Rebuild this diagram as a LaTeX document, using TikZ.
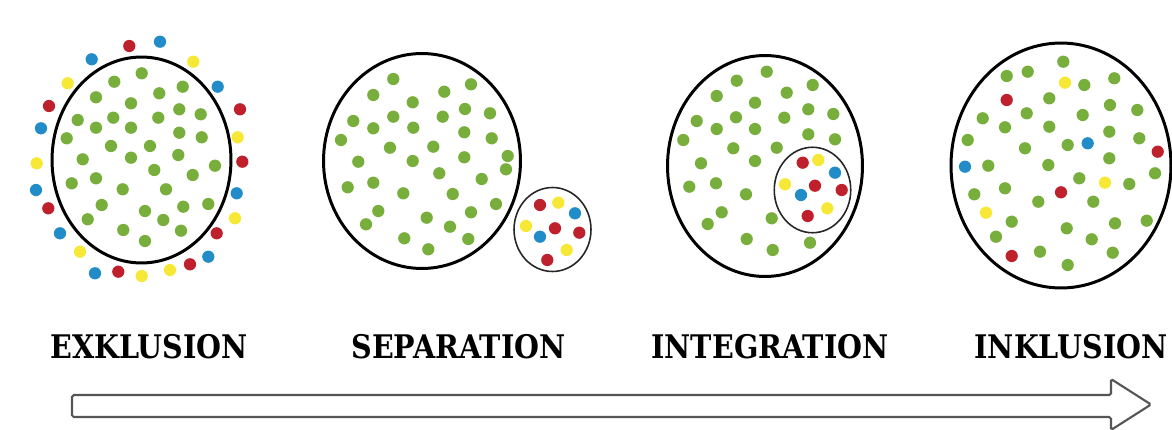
\documentclass[tikz,border=0pt]{standalone}
\usepackage{fontspec}
\newfontfamily\labelfont{DejaVu Serif}
\usepackage{tikz}
\usetikzlibrary{shapes.geometric}
\usetikzlibrary{positioning}
\definecolor{dotgreen}{RGB}{120,174,60}
\definecolor{dotred}{RGB}{190,32,44}
\definecolor{dotblue}{RGB}{34,140,200}
\definecolor{dotyellow}{RGB}{246,232,52}
\definecolor{arrowgray}{RGB}{85,85,85}
\newcommand{\stagelabel}[1]{\scalebox{0.88}[1]{#1}}

\begin{document}
\begin{tikzpicture}[x=0.02cm,y=-0.02cm,
    big ring/.style={ellipse,draw=black,line width=1.7pt,inner sep=0pt},
    small ring/.style={ellipse,draw=black!85,line width=0.9pt,inner sep=0pt},
    dot node/.style={circle,inner sep=0pt,minimum size=0.245cm},
    green node/.style={dot node,fill=dotgreen},
    red node/.style={dot node,fill=dotred},
    blue node/.style={dot node,fill=dotblue},
    yellow node/.style={dot node,fill=dotyellow},
    label node/.style={font=\labelfont\bfseries\fontsize{18.5pt}{21pt}\selectfont,inner sep=0pt}]
   \useasboundingbox (0,0) rectangle (1172,429);
   % exklusion
   \node[big ring,minimum width=3.58cm,minimum height=4.12cm] (exkl) at (141.5,160) {};
   \foreach \x/\y [count=\i] in {141.7/73.3,114.3/81.7,182.7/86.7,159.3/93.3,96/97.3,131/103.3,179.3/109.3,200.7/114.3,
      77.7/120,113.3/117.7,158.3/117.7,96/127.7,131/127.7,179.3/132.7,201.7/137.3,66.7/138.3,111/146,150/146,
      82.7/159.3,131/157.7,178.3/155,215/165.7,154.3/170,192.7/175,96/178.3,71.7/183.3,122.7/189.3,166/189.3,
      101.7/205,183.3/206.7,208.3/204,87.7/219.3,145/211,163.3/220,123.3/230,181/230.7,145/241}
      \node[green node] (ex\i) at (\x,\y) {};
   \node[red node] (exr1) at (129.3,46) {};
   \node[blue node] (exb1) at (160,41.7) {};
   \node[blue node] (exb2) at (91.7,59.3) {};
   \node[yellow node] (exy1) at (193.3,61.7) {};
   \node[yellow node] (exy2) at (67.7,83.3) {};
   \node[blue node] (exb3) at (217.7,86.7) {};
   \node[red node] (exr2) at (49,106) {};
   \node[red node] (exr3) at (240,109.3) {};
   \node[blue node] (exb4) at (41,128.3) {};
   \node[yellow node] (exy3) at (237.7,137.3) {};
   \node[yellow node] (exy4) at (36.7,163.3) {};
   \node[red node] (exr4) at (242.3,161.7) {};
   \node[blue node] (exb5) at (36,190) {};
   \node[blue node] (exb6) at (236.7,193.3) {};
   \node[red node] (exr5) at (48.3,208.3) {};
   \node[yellow node] (exy5) at (235,218.3) {};
   \node[blue node] (exb7) at (60,233.3) {};
   \node[red node] (exr6) at (216.7,233.3) {};
   \node[yellow node] (exy6) at (80,251.7) {};
   \node[blue node] (exb8) at (208.3,256.7) {};
   \node[red node] (exr7) at (190,264.3) {};
   \node[blue node] (exb9) at (95,273.3) {};
   \node[red node] (exr8) at (118.3,271.7) {};
   \node[yellow node] (exy7) at (141.7,276) {};
   \node[yellow node] (exy8) at (170,270) {};
   % separation
   \node[big ring,minimum width=3.94cm,minimum height=4.3cm] (sep) at (422,161) {};
   \foreach \x/\y [count=\i] in {393.3/79,471/84.3,373.3/95,444.3/91.7,412.7/102.3,465/109,393.3/116.7,442.7/116.7,
      490/113.3,353.3/121,373.3/128.3,413.3/127.7,464.3/132.3,491.7/138.3,341/140,390/147.7,433.3/146.7,
      464.3/157.3,358.3/161.7,412.7/161,507.7/156,506/169.3,439.3/173.3,481.7/179,347.7/187.3,373.3/182.7,
      403.3/193.3,452.7/194,496/204,378.3/211,471/212.3,366/224.3,426.7/217.7,450/226.7,404.3/238.3,
      468.3/239,428.3/249.3}
      \node[green node] (se\i) at (\x,\y) {};
   \node[small ring,minimum width=1.54cm,minimum height=1.68cm] (sepgroup) at (552.5,229.5) {};
   \node[red node] (ser1) at (540,205) {};
   \node[yellow node] (sey1) at (558.3,202.7) {};
   \node[blue node] (seb1) at (575,213.3) {};
   \node[yellow node] (sey2) at (526,226) {};
   \node[red node] (ser2) at (555,228.3) {};
   \node[red node] (ser3) at (579.3,232.7) {};
   \node[blue node] (seb2) at (540,236.7) {};
   \node[yellow node] (sey3) at (566.7,250) {};
   \node[red node] (ser4) at (547.3,260) {};
   % integration
   \node[big ring,minimum width=3.9cm,minimum height=4.42cm] (integ) at (765,166) {};
   \foreach \x/\y [count=\i] in {766.7/71.7,736.7/80.7,812.7/85,716.7/96,786.7/92.7,755/102.7,808.3/109.3,833.3/114,
      696.7/121,736/117.3,784.3/117.7,716.7/129,755/129,808.3/134.3,835/139.3,683.3/140,733.3/148.3,776.7/147.7,
      701/163.3,755/161,689.3/186.7,716/183.3,746/194.3,721.7/212.3,771.7/218.3,707.7/224,746.7/239,
      772.7/250,810/242.7}
      \node[green node] (in\i) at (\x,\y) {};
   \node[small ring,minimum width=1.53cm,minimum height=1.71cm] (integgroup) at (812.5,190) {};
   \node[red node] (inr1) at (802.7,162.7) {};
   \node[yellow node] (iny1) at (818.3,160) {};
   \node[blue node] (inb1) at (835,172.7) {};
   \node[yellow node] (iny2) at (785,184.3) {};
   \node[red node] (inr2) at (815,185.7) {};
   \node[red node] (inr3) at (841.7,190) {};
   \node[blue node] (inb2) at (801,195) {};
   \node[yellow node] (iny3) at (827.3,208.3) {};
   \node[red node] (inr4) at (807.7,216) {};
   % inklusion
   \node[big ring,minimum width=4.4cm,minimum height=4.9cm] (inkl) at (1061,165.5) {};
   \foreach \x/\y [count=\i] in {1063.3/61.7,1006.7/76,1027.7/71.7,1114.3/78.3,1084.3/85,1049.3/98.3,1026.7/113.3,
      1082.7/115,1110/105,1137.3/110,982.7/118.3,1005/127.3,1049.3/126.7,967.7/140,1025/148.3,1067.7/145,
      1109.3/131.7,1139.3/138.3,988.3/165.7,1048.3/165,1109.3/158.3,1155/173.3,1079.3/178.3,1129.3/184,
      974.3/194.3,1005/188.3,1038.3/201.7,1093.3/201.7,1011.7/221.7,1066.7/228.3,1115/223.3,1146.7/220.7,
      996/236.7,1091.7/239.3,1040/251.7,1112.7/252.7,1067.7/265}
      \node[green node] (ik\i) at (\x,\y) {};
   \node[yellow node] (iky1) at (1065,82.7) {};
   \node[red node] (ikr1) at (1006.7,100) {};
   \node[blue node] (ikb1) at (1087.7,143.3) {};
   \node[red node] (ikr2) at (1157.7,151.7) {};
   \node[blue node] (ikb2) at (965,166.7) {};
   \node[yellow node] (iky2) at (1105,182.7) {};
   \node[red node] (ikr3) at (1061,192.3) {};
   \node[yellow node] (iky3) at (986,212.7) {};
   \node[red node] (ikr4) at (1011.7,256) {};
   % labels
   \node[label node] (lexkl) at (149,346.5) {\stagelabel{EXKLUSION}};
   \node[label node] (lsep) at (458.5,346.5) {\stagelabel{SEPARATION}};
   \node[label node] (linteg) at (770,346.5) {\stagelabel{INTEGRATION}};
   \node[label node] (linkl) at (1071,346.5) {\stagelabel{INKLUSION}};
   % arrow
   \draw[draw=arrowgray,line width=1.2pt,fill=white,rounded corners=1pt]
      (72,395) -- (1111,395) -- (1111,379) -- (1151,404.5) -- (1111,430) -- (1111,417) -- (72,417) -- cycle;
\end{tikzpicture}
\end{document}
